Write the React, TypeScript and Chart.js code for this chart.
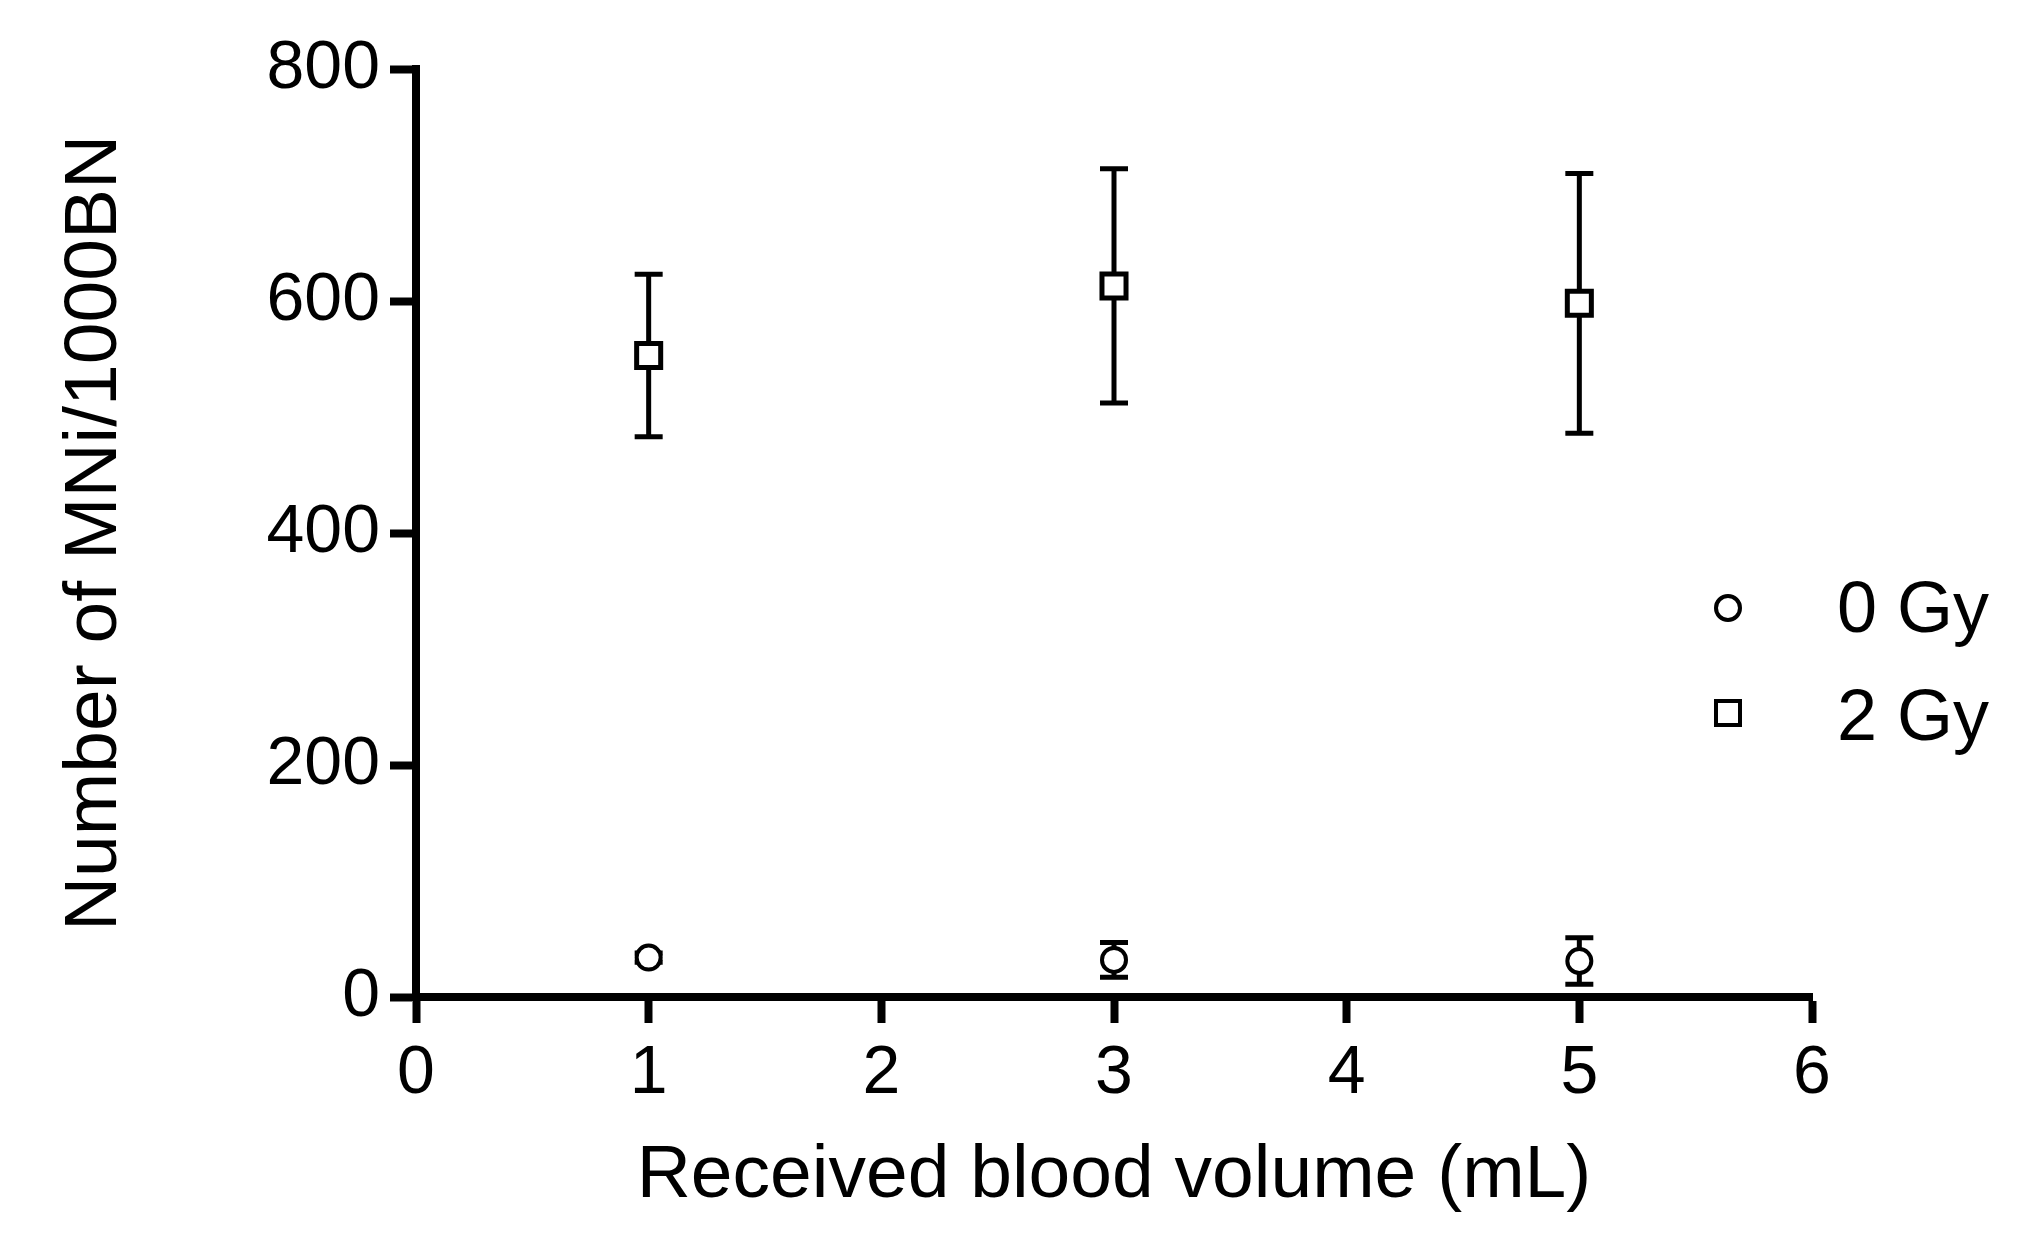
import React, { useEffect, useRef } from 'react';
import { Chart, registerables } from 'chart.js';

Chart.register(...registerables);

// received blood volume (mL)
const volumes = [1, 3, 5];
// MNi per 1000 BN, mean and error
const gy0Mean = [34, 32, 31];
const gy0Err = [4, 15, 20];
const gy2Mean = [553, 613, 598];
const gy2Err = [70, 101, 112];

const xTicks = [0, 1, 2, 3, 4, 5, 6];
const yTicks = [0, 200, 400, 600, 800];

const legendLabels = ['0 Gy', '2 Gy'];

const FONT = '"Liberation Sans", Arial, Helvetica, sans-serif';

const errorBars = {
  id: 'errorBars',
  beforeDatasetsDraw(chart) {
    const { ctx, scales } = chart;
    const x = scales.x;
    const y = scales.y;
    const sets = [
      [gy0Mean, gy0Err],
      [gy2Mean, gy2Err],
    ];
    ctx.save();
    ctx.strokeStyle = '#000';
    ctx.lineWidth = 5;
    sets.forEach(([means, errs]) => {
      volumes.forEach((v, i) => {
        const px = x.getPixelForValue(v);
        const top = y.getPixelForValue(means[i] + errs[i]);
        const bot = y.getPixelForValue(means[i] - errs[i]);
        ctx.beginPath();
        ctx.moveTo(px, top);
        ctx.lineTo(px, bot);
        ctx.moveTo(px - 14, top);
        ctx.lineTo(px + 14, top);
        ctx.moveTo(px - 14, bot);
        ctx.lineTo(px + 14, bot);
        ctx.stroke();
      });
    });
    ctx.restore();
  },
};

const sideLegend = {
  id: 'sideLegend',
  afterDraw(chart) {
    const { ctx, chartArea } = chart;
    const mx = chartArea.right - 84;
    const tx = chartArea.right + 25;
    const rows = [608, 713];
    ctx.save();
    ctx.strokeStyle = '#000';
    ctx.fillStyle = '#fff';
    ctx.lineWidth = 4;
    // circle
    ctx.beginPath();
    ctx.arc(mx, rows[0], 12, 0, Math.PI * 2);
    ctx.fill();
    ctx.stroke();
    // square
    ctx.beginPath();
    ctx.rect(mx - 12, rows[1] - 12, 24, 24);
    ctx.fill();
    ctx.stroke();
    ctx.fillStyle = '#000';
    ctx.font = `72px ${FONT}`;
    ctx.textBaseline = 'alphabetic';
    ctx.textAlign = 'left';
    ctx.fillText(legendLabels[0], tx, rows[0] + 24);
    ctx.fillText(legendLabels[1], tx, rows[1] + 27);
    ctx.restore();
  },
};

const App = () => {
  const chartRef = useRef(null);

  useEffect(() => {
    const ctx = chartRef.current.getContext('2d');

    const chartInstance = new Chart(ctx, {
      type: 'scatter',
      data: {
        datasets: [
          {
            label: legendLabels[0],
            data: volumes.map((v, i) => ({ x: v, y: gy0Mean[i] })),
            pointStyle: 'circle',
            pointRadius: 12,
            pointBorderWidth: 4,
            pointBackgroundColor: '#fff',
            pointBorderColor: '#000',
          },
          {
            label: legendLabels[1],
            data: volumes.map((v, i) => ({ x: v, y: gy2Mean[i] })),
            pointStyle: 'rect',
            pointRadius: 17,
            pointBorderWidth: 5,
            pointBackgroundColor: '#fff',
            pointBorderColor: '#000',
          },
        ],
      },
      options: {
        animation: false,
        responsive: false,
        devicePixelRatio: 1,
        layout: { padding: { left: 0, right: 214, top: 69, bottom: 0 } },
        scales: {
          x: {
            type: 'linear',
            min: xTicks[0],
            max: xTicks[xTicks.length - 1],
            afterBuildTicks: (scale) => {
              scale.ticks = xTicks.map((v) => ({ value: v }));
            },
            afterFit: (scale) => {
              scale.height = 236;
            },
            border: { display: true, color: '#000', width: 8 },
            grid: {
              drawOnChartArea: false,
              drawTicks: true,
              tickLength: 26,
              tickWidth: 8,
              tickColor: '#000',
            },
            ticks: {
              color: '#000',
              padding: 10,
              font: { family: FONT, size: 68 },
            },
            title: {
              display: true,
              text: 'Received blood volume (mL)',
              color: '#000',
              font: { family: FONT, size: 75 },
              padding: { top: 0, bottom: 12 },
            },
          },
          y: {
            type: 'linear',
            min: yTicks[0],
            max: yTicks[yTicks.length - 1],
            afterBuildTicks: (scale) => {
              scale.ticks = yTicks.map((v) => ({ value: v }));
            },
            afterFit: (scale) => {
              scale.width = 416;
            },
            border: { display: true, color: '#000', width: 8 },
            grid: {
              drawOnChartArea: false,
              drawTicks: true,
              tickLength: 26,
              tickWidth: 8,
              tickColor: '#000',
            },
            ticks: {
              color: '#000',
              padding: 10,
              font: { family: FONT, size: 68 },
            },
            title: {
              display: true,
              text: 'Number of MNi/1000BN',
              color: '#000',
              font: { family: FONT, size: 75 },
              padding: { top: 50, bottom: 0 },
            },
          },
        },
        plugins: {
          legend: { display: false },
          title: { display: false },
          tooltip: { enabled: false },
        },
      },
      plugins: [errorBars, sideLegend],
    });

    return () => {
      chartInstance.destroy();
    };
  }, []);

  return (
    <div style={{ position: 'fixed', left: 0, top: 0, width: 2026, height: 1233, background: '#fff' }}>
      <canvas ref={chartRef} width={2026} height={1233} style={{ width: 2026, height: 1233 }} />
    </div>
  );
};

export default App;
